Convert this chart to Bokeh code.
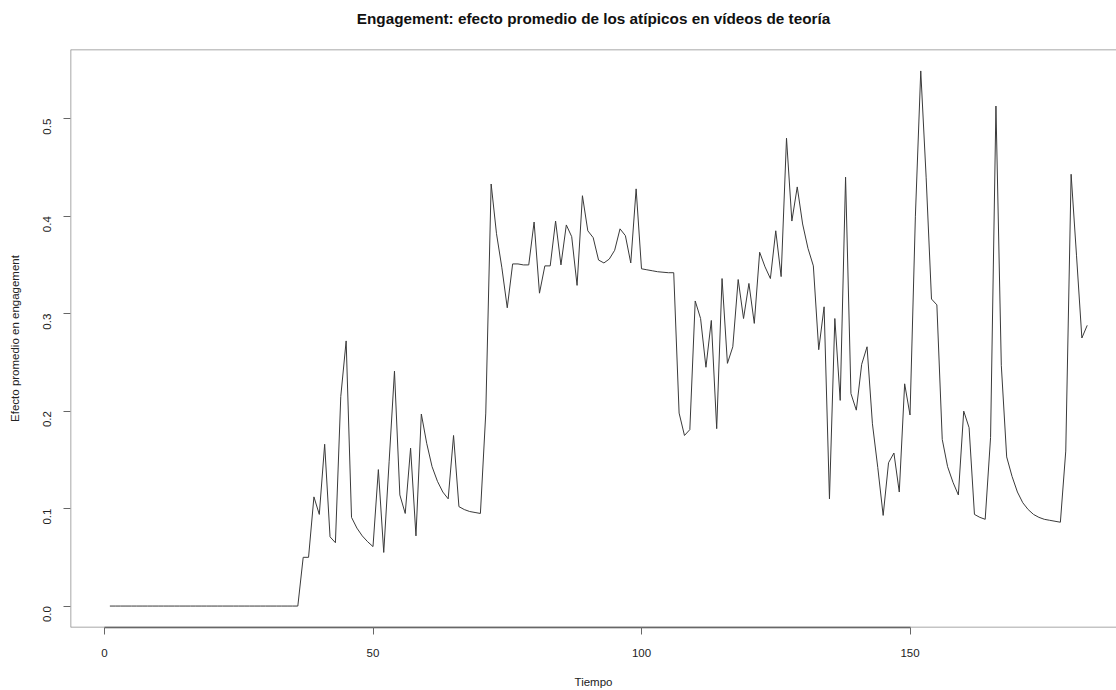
import math
from bokeh.plotting import figure
from bokeh.models import ColumnDataSource, Range1d, Span, FixedTicker, PrintfTickFormatter, Title
from bokeh.embed import file_html
from bokeh.resources import INLINE

# ---- data ----
tiempo = list(range(1, 184))
efecto = [0.0] * 36 + [
    0.050, 0.050, 0.112, 0.094, 0.166, 0.071, 0.065, 0.215, 0.272, 0.091,   # 37-46
    0.080, 0.072, 0.066, 0.061, 0.140, 0.055, 0.148, 0.241, 0.114, 0.095,   # 47-56
    0.162, 0.072, 0.197, 0.167, 0.143, 0.128, 0.117, 0.110, 0.175, 0.102,   # 57-66
    0.099, 0.097, 0.096, 0.095, 0.198, 0.433, 0.382, 0.347, 0.306, 0.351,   # 67-76
    0.351, 0.350, 0.350, 0.394, 0.321, 0.349, 0.349, 0.395, 0.350, 0.391,   # 77-86
    0.379, 0.329, 0.421, 0.385, 0.378, 0.355, 0.352, 0.356, 0.365, 0.387,   # 87-96
    0.380, 0.352, 0.428, 0.346, 0.345, 0.344, 0.343, 0.3425, 0.342, 0.342, # 97-106
    0.198, 0.175, 0.181, 0.313, 0.295, 0.245, 0.293, 0.182, 0.336, 0.249,   # 107-116
    0.266, 0.335, 0.295, 0.331, 0.290, 0.363, 0.348, 0.336, 0.385, 0.338,   # 117-126
    0.480, 0.395, 0.430, 0.392, 0.367, 0.349, 0.263, 0.307, 0.110, 0.295,   # 127-136
    0.211, 0.440, 0.218, 0.201, 0.248, 0.266, 0.187, 0.142, 0.093, 0.147,   # 137-146
    0.157, 0.117, 0.228, 0.196, 0.400, 0.549, 0.440, 0.315, 0.309, 0.171,   # 147-156
    0.143, 0.127, 0.114, 0.200, 0.183, 0.094, 0.091, 0.089, 0.173, 0.513,   # 157-166
    0.247, 0.153, 0.133, 0.117, 0.106, 0.099, 0.094, 0.091, 0.089, 0.088,   # 167-176
    0.087, 0.086, 0.159, 0.443, 0.360, 0.275, 0.288,                        # 177-183
]
x_ticks = [0, 50, 100, 150]
y_ticks = [0.0, 0.1, 0.2, 0.3, 0.4, 0.5]

titulo = "Engagement: efecto promedio de los atípicos en vídeos de teoría"
x_label = "Tiempo"
y_label = "Efecto promedio en engagement"

FONT = "Liberation Sans"
X0, X1 = -6.33, 188.45
Y0, Y1 = -0.022, 0.571

src = ColumnDataSource(data=dict(t=tiempo, efecto=efecto))

p = figure(
    width=1116, height=690,
    x_range=Range1d(X0, X1), y_range=Range1d(Y0, Y1),
    output_backend="svg", toolbar_location=None,
    min_border_left=70, min_border_right=0, min_border_top=49, min_border_bottom=61,
    title=titulo,
)
p.title.align = "center"
p.title.offset = 5
p.title.text_font = FONT
p.title.text_font_size = "15.3px"
p.title.text_font_style = "bold"
p.title.text_color = "#111111"
p.title.standoff = 0

# empty spacer panel between the title and the plot frame
p.add_layout(Title(text=" ", text_font_size="2px", standoff=19), "above")

p.line("t", "efecto", source=src, line_color="#3a3a3a", line_width=1)

p.outline_line_color = None
p.xgrid.grid_line_color = None
p.ygrid.grid_line_color = None
p.background_fill_color = "white"
p.border_fill_color = "white"

box_col = "#8a8a8a"
for loc in (Y1, Y0):
    p.add_layout(Span(location=loc, dimension="width", line_color=box_col, line_width=1.5))
p.add_layout(Span(location=X0, dimension="height", line_color=box_col, line_width=1.5))

xa = p.xaxis[0]
xa.ticker = FixedTicker(ticks=x_ticks)
xa.bounds = (0, 150)
xa.axis_line_color = "#444444"
xa.axis_line_width = 1.5
xa.major_tick_line_color = "#666666"
xa.major_tick_out = 7
xa.major_tick_in = 0
xa.minor_tick_line_color = None
xa.major_label_standoff = 14
xa.major_label_text_font = FONT
xa.major_label_text_font_size = "11.5px"
xa.major_label_text_color = "#222222"
xa.axis_label = x_label
xa.axis_label_text_font = FONT
xa.axis_label_text_font_size = "11.5px"
xa.axis_label_text_font_style = "normal"
xa.axis_label_text_color = "#222222"
xa.axis_label_standoff = 16

ya = p.yaxis[0]
ya.ticker = FixedTicker(ticks=y_ticks)
ya.formatter = PrintfTickFormatter(format="%.1f")
ya.axis_line_color = None
ya.major_tick_line_color = "#666666"
ya.major_tick_out = 7
ya.major_tick_in = 0
ya.minor_tick_line_color = None
ya.major_label_orientation = math.pi / 2
ya.major_label_standoff = 16
ya.major_label_text_font = FONT
ya.major_label_text_font_size = "11.5px"
ya.major_label_text_color = "#222222"
ya.axis_label = y_label
ya.axis_label_text_font = FONT
ya.axis_label_text_font_size = "11.5px"
ya.axis_label_text_font_style = "normal"
ya.axis_label_text_color = "#222222"
ya.axis_label_standoff = 16

open("out.html", "w").write(file_html(p, INLINE))
